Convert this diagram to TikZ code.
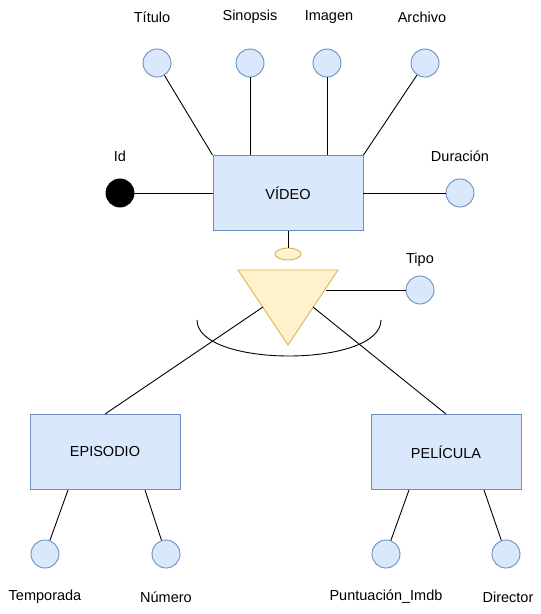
\documentclass[tikz,border=0pt]{standalone}
\usepackage{fontspec}
\setmainfont{Liberation Sans}
\usepackage{xcolor}
\definecolor{azul}{HTML}{DAE8FC}
\definecolor{azulborde}{HTML}{6C8EBF}
\definecolor{amarillo}{HTML}{FFF2CC}
\definecolor{amarilloborde}{HTML}{D6B656}
\usetikzlibrary{positioning,shapes.geometric}

\tikzset{
  entidad/.style={rectangle,draw=azulborde,fill=azul,minimum width=150pt,minimum height=75pt,inner sep=0pt},
  atributo/.style={circle,draw=azulborde,fill=azul,minimum size=28pt,inner sep=0pt},
  etiqueta/.style={inner sep=0pt}
}

\begin{document}
\begin{tikzpicture}[x=1pt,y=-1pt,font=\fontsize{14.5}{17}\selectfont,line width=0.9pt]
  \useasboundingbox (0,0) rectangle (541,614);

  % entidades
  \node[entidad] (video) at (288,193){VÍDEO};
  \node[entidad] (episodio) at (105,452){EPISODIO};
  \node[entidad] (pelicula) at (446,452){PELÍCULA};

  % atributos de video
  \node[atributo] (titulo) at (157,63){};
  \node[atributo] (sinopsis) at (250,63){};
  \node[atributo] (imagen) at (327,63){};
  \node[atributo] (archivo) at (425,63){};
  \node[atributo] (duracion) at (460,193){};
  \node[circle,draw=black,fill=black,minimum size=28pt,inner sep=0pt] (id) at (120,193){};
  \node[etiqueta] (ltitulo) at (152,17){Título};
  \node[etiqueta] (lsinopsis) at (250,17){Sinopsis};
  \node[etiqueta] (limagen) at (329,17){Imagen};
  \node[etiqueta] (larchivo) at (422,17){Archivo};
  \node[etiqueta] (lid) at (120,156){Id};
  \node[etiqueta] (lduracion) at (460,156){Duración};

  \draw (titulo) -- (video.north west);
  \draw (sinopsis) -- (sinopsis |- video.north);
  \draw (imagen) -- (imagen |- video.north);
  \draw (archivo) -- (video.north east);
  \draw (id) -- (video.west);
  \draw (video.east) -- (duracion);

  % jerarquia
  \node[ellipse,draw=amarilloborde,fill=amarillo,minimum width=26pt,minimum height=12pt,inner sep=0pt] (disc) at (288,254){};
  \draw (video.south) -- (disc);
  \filldraw[draw=amarilloborde,fill=amarillo] (238,270) coordinate (ta) -- (338,270) coordinate (tb) -- (288,345) coordinate (tc) -- cycle;
  \coordinate (tizq) at (263,307);
  \coordinate (tder) at (313,307);
  \coordinate (ttipo) at (326,290);
  \node[atributo] (tipo) at (420,290){};
  \node[etiqueta] (ltipo) at (420,260){Tipo};
  \draw (ttipo) -- (tipo);
  \draw (tizq) -- (episodio.north);
  \draw (tder) -- (pelicula.north);
  \draw (197,320) .. controls (197,368) and (381,368) .. (381,320);

  % atributos de episodio y pelicula
  \node[atributo] (temporada) at (45,554){};
  \node[atributo] (numero) at (166,554){};
  \node[atributo] (puntuacion) at (386,554){};
  \node[atributo] (director) at (506,554){};
  \node[etiqueta] (ltemporada) at (45,597){Temporada};
  \node[etiqueta] (lnumero) at (166,597){Número};
  \node[etiqueta] (lpuntuacion) at (386,597){Puntuación\_Imdb};
  \node[etiqueta] (ldirector) at (508,597){Director};

  \coordinate (e1) at (68,490);
  \coordinate (e2) at (145,490);
  \coordinate (p1) at (409,490);
  \coordinate (p2) at (484,490);
  \draw (temporada) -- (e1);
  \draw (numero) -- (e2);
  \draw (puntuacion) -- (p1);
  \draw (director) -- (p2);
\end{tikzpicture}
\end{document}
